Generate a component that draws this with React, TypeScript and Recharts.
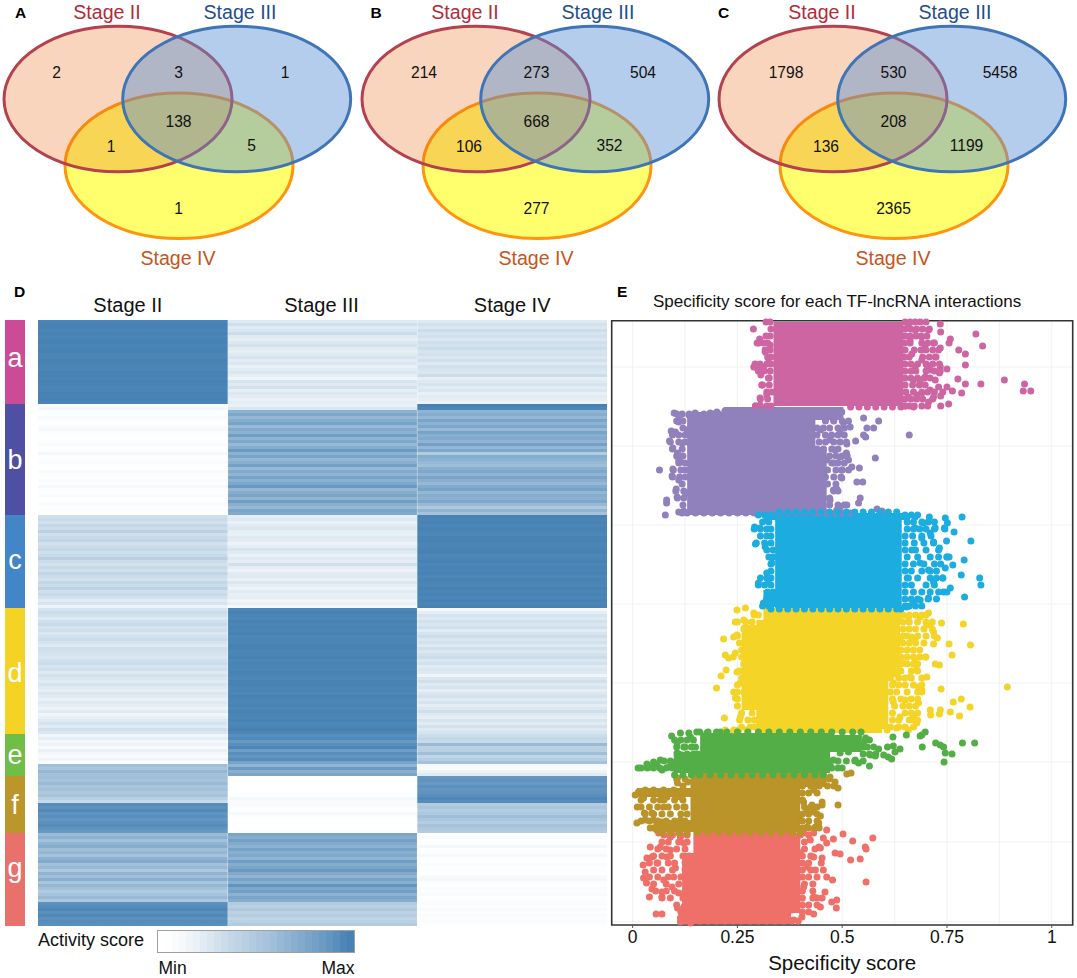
import React from 'react';
import { ScatterChart, Scatter, XAxis, YAxis, BarChart, Bar, Cell, CartesianGrid, ReferenceArea, ReferenceLine } from 'recharts';

// ---------- Venn panels ----------
const vennSets = [
  { name: 'Stage IV', x: 179, y: 165.7 },
  { name: 'Stage II', x: 118, y: 99 },
  { name: 'Stage III', x: 236.7, y: 99 },
];
const vennNames = [
  { name: 'Stage II', x: 107, y: 19 },
  { name: 'Stage III', x: 240, y: 19 },
  { name: 'Stage IV', x: 178, y: 265 },
];
const regionX = [0, 178.5, 285, 178.5, 111, 251.5, 178.5];
const regionY = [72.7, 72.7, 72.7, 121, 146, 145, 208];
const countsA = [2, 3, 1, 138, 1, 5, 1];
const countsB = [214, 273, 504, 668, 106, 352, 277];
const countsC = [1798, 530, 5458, 208, 136, 1199, 2365];
const firstRegionX = { A: 56.7, B: 66, C: 71 };

const vennStyle: any = {
  'Stage II': { fill: 'rgb(230,106,18)', fillOpacity: 0.283, stroke: '#B5404F', text: '#B22B3B' },
  'Stage III': { fill: 'rgb(91,144,213)', fillOpacity: 0.45, stroke: '#3F75B7', text: '#1F4E8C' },
  'Stage IV': { fill: '#FFFF6E', fillOpacity: 1, stroke: '#FF9410', text: '#C8541C' },
};

// ---------- Heatmap ----------
const stageNames = ['Stage II', 'Stage III', 'Stage IV'];
const stageTickDx = [-5, -1, 0];
const a2 = [98,100,99,98,100,97,99,100,98,99,100,97,98,100,99,98,97,100,99,98,100,99,97,98,100,99,100,98];
const a3 = [18,26,16,20,28,17,14,19,24,16,13,18,22,15,19,12,16,20,14,8,22,17,24,13,19,15,11,14];
const a4 = [18,24,20,28,22,25,20,26,23,28,22,24,20,26,18,25,22,20,28,14,18,22,16,20,12,16,14,10];
const b2 = [3,6,2,1,4,2,1,3,5,2,1,0,2,4,1,2,6,1,2,3,1,0,4,2,1,3,1,5,2,1,3,0,2,4,1,2,1];
const b3 = [12,20,62,70,58,66,74,55,68,62,78,60,70,56,66,80,62,72,58,64,76,55,68,60,74,62,70,82,58,66,72,60,78,64,56,72,68];
const b4 = [100,96,60,66,58,72,62,70,56,74,64,68,60,76,58,70,42,66,62,56,52,64,70,60,72,64,56,68,74,58,66,62,70,56,44,60,48];
const c2 = [26,30,24,32,28,36,26,30,34,24,28,32,26,30,38,28,24,30,26,34,28,24,32,28,36,26,30,24,16,22,10];
const c3 = [14,18,12,16,20,14,12,18,15,10,14,22,16,12,18,14,26,14,10,16,18,12,20,14,10,16,12,14,8,12,5];
const c4 = [100,98,99,97,100,98,96,99,100,97,98,99,100,96,98,100,97,99,98,100,96,99,98,97,100,98,99,97,100,98,100];
const d2 = [22,28,24,18,26,30,22,26,20,24,28,22,18,26,24,22,20,25,28,22,26,18,24,20,16,22,18,14,20,16,12,18,14,10,16,8,12,18,22,16,26,20];
const d3 = [97,100,98,96,100,97,99,98,100,96,98,97,100,99,97,98,100,96,99,98,97,100,98,96,99,100,97,98,96,100,98,97,99,96,100,98,97,99,96,98,100,97];
const d4 = [6,14,22,18,24,20,26,16,22,28,20,24,18,26,20,24,28,20,24,16,20,18,8,20,26,18,22,14,20,24,16,22,14,20,26,18,14,22,16,24,18,22];
const e2 = [8,14,6,10,4,12,6,4,8,2,52,46,58,50];
const e3 = [90,94,82,90,96,78,90,84,92,74,60,80,64,72];
const e4 = [28,32,30,55,36,38,52,34,40,50,5,4,10,16];
const f2 = [52,48,55,46,50,44,48,38,30,92,88,94,86,90,84,88,92,86,82];
const f3 = [0,1,0,0,1,0,2,6,3,4,2,1,5,2,0,1,0,1,0];
const f4 = [84,86,82,88,84,86,90,95,92,42,46,40,44,52,46,40,48,44,42];
const g2 = [54,62,50,60,66,52,58,48,62,68,50,56,44,60,52,64,46,58,50,42,48,56,44,88,92,96,90,94,88,92,90];
const g3 = [72,66,76,68,62,74,64,70,60,78,66,72,82,68,60,74,64,86,70,76,62,72,66,42,38,44,36,40,34,38,42];
const g4 = [1,3,0,2,6,1,2,5,1,0,3,1,2,0,4,6,2,1,3,2,4,1,2,3,2,4,1,3,2,3,1];
const stage2 = [...a2, ...b2, ...c2, ...d2, ...e2, ...f2, ...g2];
const stage3 = [...a3, ...b3, ...c3, ...d3, ...e3, ...f3, ...g3];
const stage4 = [...a4, ...b4, ...c4, ...d4, ...e4, ...f4, ...g4];
const heatRows = stage2.map((v, i) => ({ row: i, w2: 1, w3: 1, w4: 1, v2: v, v3: stage3[i], v4: stage4[i] }));

const clusterNames = ['a', 'b', 'c', 'd', 'e', 'f', 'g'];
const clusterRows = [a2.length, b2.length, c2.length, d2.length, e2.length, f2.length, g2.length];
const clusterColors = ['#CB4B97', '#4F50A3', '#4286C7', '#F4D325', '#6FBE45', '#BB962B', '#E9716B'];
const clusterLabelDy = [4.7, 9, 7, 11, 9, 9.5, -3];
const sideRow: any = { side: 'side' };
clusterNames.forEach((n, i) => { sideRow[n] = clusterRows[i]; });

const legendSteps = [0,1,3,5,9,12,16,20,24,28,32,35,38,42,45,48,52,56,60,64,68,72,76,80,85,90,96,100];

const heatColor = (v: number) => {
  const t = v / 100;
  const r = Math.round(255 + (70 - 255) * t);
  const g = Math.round(255 + (130 - 255) * t);
  const b = Math.round(255 + (180 - 255) * t);
  return `rgb(${r},${g},${b})`;
};

// ---------- Specificity scatter ----------
// isolated points: [score, rank]
const pinkPts = [[.288,596],[.734,601],[.735,593],[.819,591],[.835,579],[.758,586],[.755,582],[.778,575],[.794,571],[.794,560],[.750,556],[.776,546],[.794,541],[.831,541],[.887,545],[.935,541],[.932,534],[.950,534],[.750,538],[.730,538],[.763,534],[.785,532],[.754,521],[.735,529],[.710,535],[.690,532],[.706,523],[.670,518],[.650,519],[.686,542],[.698,548],[.732,552],[.734,558],[.710,555],[.690,565],[.666,571],[.722,568],[.734,577],[.718,582],[.698,580],[.690,588],[.706,595],[.674,595],[.658,598],[.297,582],[.303,586],[.316,573],[.328,580],[.324,567],[.289,558],[.297,557],[.312,558],[.306,550],[.308,540],[.324,547],[.304,527],[.320,530],[.293,519],[.304,520],[.320,518],[.670,545],[.662,585],[.674,558],[.702,560],[.658,528],[.678,530],[.718,528],[.722,545]];
const purplePts = [[.099,512],[.111,509],[.110,503],[.134,510],[.149,512],[.185,512],[.201,513],[.092,494],[.102,493],[.088,484],[.096,477],[.107,472],[.114,463],[.064,455],[.096,456],[.094,449],[.110,445],[.104,436],[.106,428],[.081,425],[.081,422],[.078,410],[.110,413],[.122,414],[.551,507],[.587,504],[.575,497],[.559,497],[.551,490],[.556,488],[.660,490],[.519,498],[.532,484],[.511,481],[.579,467],[.510,472],[.515,465],[.523,458],[.541,457],[.499,455],[.499,447],[.535,443],[.549,443],[.487,436],[.479,435],[.543,427],[.539,422],[.495,418],[.511,420],[.519,412],[.583,416],[.595,414],[.487,415],[.471,425],[.479,462],[.495,468],[.463,465],[.483,475],[.471,485],[.495,492],[.503,502],[.479,505],[.459,508],[.499,513],[.448,495],[.455,452],[.448,432],[.463,412],[.130,495],[.138,482],[.118,482],[.110,465],[.126,432]];
const bluePts = [[.786,408],[.746,407],[.751,402],[.744,397],[.708,408],[.674,408],[.694,402],[.722,397],[.767,393],[.807,384],[.749,384],[.690,387],[.718,383],[.674,397],[.710,392],[.732,377],[.750,368],[.755,368],[.791,365],[.764,360],[.746,357],[.784,350],[.740,347],[.828,347],[.831,340],[.758,337],[.742,333],[.792,328],[.706,327],[.686,325],[.670,323],[.654,318],[.718,343],[.706,355],[.686,362],[.666,375],[.658,347],[.291,398],[.304,397],[.293,381],[.316,378],[.300,342],[.320,352],[.324,345],[.320,405],[.312,322],[.336,332],[.332,362]];
const yellowPts = [[.245,303],[.265,305],[.710,300],[.737,302],[.789,301],[.702,300],[.217,286],[.241,288],[.249,290],[.718,293],[.727,287],[.718,281],[.755,281],[.806,280],[.762,270],[.674,285],[.666,288],[.698,268],[.674,263],[.722,261],[.732,260],[.221,270],[.229,267],[.245,272],[.249,253],[.223,255],[.211,249],[.200,237],[.736,236],[.894,238],[.682,238],[.690,235],[.702,248],[.678,255],[.241,233],[.245,227],[.257,242],[.765,223],[.784,226],[.805,218],[.758,213],[.734,215],[.732,211],[.710,215],[.711,210],[.780,209],[.682,222],[.670,210],[.219,207],[.221,195],[.241,195],[.253,195],[.273,195],[.678,202],[.658,195],[.630,197],[.607,195],[.587,196],[.650,225],[.622,223],[.638,208],[.638,285],[.257,208],[.265,282],[.273,265],[.583,205],[.646,262],[.662,248],[.622,242],[.249,315],[.269,317],[.289,312],[.706,312],[.686,308],[.658,308]];
const greenPts = [[.093,189],[.114,192],[.134,192],[.153,193],[.177,192],[.209,193],[.106,182],[.122,178],[.138,188],[.118,170],[.106,172],[.098,162],[.013,157],[.034,161],[.050,163],[.066,165],[.070,155],[.086,158],[.102,157],[.122,162],[.138,157],[.153,165],[.149,153],[.042,158],[.058,160],[.479,165],[.471,160],[.448,158],[.432,155],[.416,157],[.420,162],[.495,172],[.515,173],[.531,165],[.539,162],[.567,170],[.579,169],[.556,187],[.551,180],[.565,159],[.587,176],[.599,170],[.608,178],[.622,179],[.626,173],[.638,176],[.621,188],[.618,166],[.610,168],[.653,190],[.690,190],[.698,193],[.686,189],[.691,178],[.723,182],[.734,180],[.742,178],[.746,172],[.762,171],[.743,163],[.787,182],[.816,182]];
const brownPts = [[.006,130],[.014,133],[.030,135],[.050,135],[.074,135],[.098,135],[.107,147],[.107,142],[.132,143],[.011,118],[.028,112],[.046,112],[.010,102],[.030,105],[.050,105],[.042,97],[.070,103],[.058,95],[.074,118],[.114,105],[.122,118],[.066,125],[.026,127],[.082,128],[.114,128],[.086,97],[.471,148],[.483,143],[.490,137],[.448,142],[.424,145],[.432,135],[.511,151],[.521,152],[.490,120],[.452,123],[.452,120],[.448,109],[.428,120],[.432,113],[.416,115],[.408,123],[.444,102],[.436,98],[.416,98],[.400,105]];
const redPts = [[.463,95],[.502,91],[.455,87],[.479,86],[.525,84],[.573,87],[.463,82],[.448,77],[.424,85],[.555,78],[.557,76],[.483,72],[.495,71],[.432,68],[.452,67],[.450,62],[.520,65],[.543,66],[.436,55],[.455,55],[.463,48],[.477,45],[.557,43],[.416,58],[.400,72],[.392,45],[.408,38],[.432,28],[.459,33],[.452,27],[.475,23],[.487,25],[.486,17],[.448,18],[.432,11],[.404,8],[.380,15],[.384,5],[.444,78],[.432,92],[.408,92],[.062,92],[.090,88],[.114,88],[.122,82],[.042,78],[.066,78],[.090,75],[.034,67],[.046,68],[.058,62],[.025,60],[.030,53],[.026,47],[.033,42],[.074,45],[.098,48],[.046,36],[.070,33],[.040,28],[.094,38],[.070,28],[.110,32],[.122,18],[.107,17],[.056,11],[.070,11],[.114,7],[.130,10],[.114,3],[.138,2],[.102,57],[.130,65],[.082,68],[.138,38],[.134,22]];

// fringe of each cloud, by rank: [rank, [scores...]]
const pinkFringe = [
  [603,[.318,.328,.650,.662,.674,.686,.700]],[596,[.330,.650,.664,.678,.692,.708]],[589,[.318,.328,.650,.662,.676,.688,.702]],
  [582,[.300,.312,.322,.648,.662,.690,.704,.720]],[575,[.316,.328,.650,.672,.688,.700,.716,.730]],[568,[.322,.330,.648,.660,.692,.708,.724]],
  [561,[.292,.304,.320,.330,.650,.664,.680,.700,.716,.732]],[554,[.300,.314,.328,.650,.664,.676,.700,.720,.734]],[547,[.326,.650,.664,.680,.696,.710]],
  [540,[.310,.326,.650,.668,.684,.698]],[533,[.320,.332,.652,.670,.690,.704,.720,.740]],[526,[.305,.322,.650,.664,.678,.692,.716]],
  [519,[.293,.305,.320,.330,.650,.660,.672,.690,.704,.735]],[518,[.52,.54,.56,.58,.60,.62,.64]],
];
const purpleFringe = [
  [511,[.105,.118,.135,.15,.17,.19,.205]],[514,[.22,.24,.26,.28,.30,.32]],[504,[.105,.12,.46,.48,.50,.515]],[497,[.12,.44,.455,.47,.49,.505]],
  [490,[.095,.11,.125,.44,.46,.475,.49,.505]],[483,[.09,.11,.125,.445,.46,.48,.495,.51]],[476,[.095,.118,.44,.455,.475,.49]],
  [469,[.105,.12,.44,.47,.485,.50,.512]],[462,[.11,.125,.44,.475,.49,.505]],[455,[.097,.115,.125,.44,.465,.485,.50,.515]],
  [448,[.095,.112,.125,.44,.46,.48,.497]],[441,[.118,.44,.465,.485]],[434,[.103,.122,.44,.48,.49]],[427,[.107,.122,.44,.455,.47]],
  [420,[.12,.445,.47,.49,.505]],[412,[.118,.13,.15,.17,.19,.21,.23,.25,.27,.29,.31,.33,.35,.37,.39,.41,.43,.445,.465,.485,.50]],
];
const blueFringe = [
  [410,[.30,.315,.33,.65,.665,.68]],[403,[.31,.325,.655,.67,.69,.705,.72]],[396,[.29,.305,.32,.33,.655,.67,.685,.70,.72,.745]],
  [389,[.305,.32,.33,.65,.668,.69,.712]],[382,[.295,.315,.33,.65,.672,.695,.718]],[375,[.32,.335,.65,.675,.70,.73]],
  [368,[.325,.335,.655,.68,.71,.73,.75]],[361,[.33,.65,.67,.695,.72,.735]],[354,[.33,.65,.665,.69,.71,.725]],
  [347,[.305,.32,.33,.655,.68,.71,.725,.74]],[340,[.30,.315,.33,.65,.665,.70,.72]],[333,[.322,.335,.65,.67,.69,.71,.73,.75]],
  [326,[.32,.65,.665,.68,.705,.725]],[319,[.31,.325,.65,.66,.675,.69]],
  [413,[.35,.37,.39,.41,.43,.45,.47,.49,.51,.53,.55,.57,.59,.61,.63]],[316,[.33,.35,.37,.39,.41,.43,.45,.47,.49,.51,.53,.55,.57,.59,.61,.63,.64]],
];
const yellowFringe = [
  [310,[.29,.30,.645,.66,.675,.69,.70]],[303,[.25,.27,.285,.645,.66,.68,.70,.715]],[296,[.265,.285,.645,.66,.675,.695,.715]],
  [289,[.25,.27,.285,.645,.655,.68,.70,.72]],[282,[.255,.275,.29,.645,.66,.675,.695]],[275,[.26,.28,.64,.655,.67,.685]],
  [268,[.24,.26,.285,.64,.655,.67,.685,.70]],[261,[.265,.285,.64,.655,.67,.68]],[254,[.255,.275,.29,.62,.64,.665,.68]],
  [247,[.26,.285,.615,.635,.65,.665,.69]],[240,[.25,.27,.29,.62,.635,.65,.67,.69]],[233,[.25,.265,.285,.615,.63,.655,.68,.69]],
  [226,[.25,.27,.29,.62,.64,.665,.68]],[219,[.25,.28,.625,.645,.66,.675]],[212,[.26,.285,.62,.65,.665,.68]],
  [205,[.255,.275,.29,.62,.635,.66,.67,.68]],[198,[.26,.28,.29,.615,.635,.65,.67]],
];
const greenFringe = [
  [193,[.16,.18,.20,.225,.25,.275,.30,.325,.35,.375,.40,.425,.45,.475,.50,.525,.545]],
  [185,[.10,.115,.13,.145,.555,.565]],[178,[.105,.125,.14,.15,.55,.56,.575]],[171,[.11,.13,.145,.155,.55,.565,.58]],
  [164,[.075,.09,.105,.12,.135,.15,.47,.49,.51,.53,.55]],[157,[.02,.035,.05,.065,.08,.095,.11,.125,.14,.475,.49,.50]],
  [150,[.10,.12,.14,.16,.185,.21,.235,.26,.285,.31,.335,.36,.385,.41,.435,.455]],
];
const brownFringe = [
  [146,[.105,.125,.405,.42,.435,.455,.47]],[139,[.12,.405,.425,.445,.465,.48]],[132,[.015,.03,.045,.06,.075,.09,.105,.12,.405,.42,.44]],
  [125,[.02,.05,.075,.10,.12,.405]],[118,[.02,.04,.06,.085,.105,.125,.41,.425,.44]],[111,[.03,.05,.07,.09,.115,.13,.405,.42,.44]],
  [104,[.02,.04,.06,.08,.10,.125,.405,.42,.44]],[97,[.05,.07,.09,.11,.13,.405,.42,.435,.445]],
  [92,[.07,.09,.11,.13,.155,.18,.205,.23,.255,.28,.305,.33,.355,.38,.40]],
];
const redFringe = [
  [90,[.075,.095,.115,.13,.385,.40,.42]],[83,[.07,.085,.11,.13,.39,.41]],[76,[.06,.08,.105,.125,.39,.41,.435]],
  [69,[.05,.07,.09,.12,.135,.405,.425]],[62,[.04,.06,.085,.10,.125,.405,.42]],[55,[.05,.07,.095,.125,.405,.425]],
  [48,[.04,.06,.085,.115,.13,.405,.42,.44]],[41,[.05,.08,.11,.13,.41,.43]],[34,[.055,.08,.10,.125,.405,.43]],
  [27,[.07,.09,.12,.135,.405,.43,.44]],[20,[.105,.125,.14,.405,.42,.44]],[13,[.115,.13,.405,.42]],
  [4,[.125,.14,.16,.18,.20,.22,.24,.26,.28,.30,.32,.34,.36,.38,.395]],
];

// dense centres of each cloud: [x1, x2, y1, y2]
const pinkCore = [[.336,.646,519,603]];
const purpleCore = [[.130,.436,410,513],[.217,.503,505,518],[.430,.463,412,478]];
const blueCore = [[.340,.642,317,412],[.320,.662,405,412],[.312,.344,318,335]];
const yellowCore = [[.295,.595,192,305],[.312,.642,303,317],[.590,.638,248,312],[.260,.300,215,300],[.590,.610,196,250]];
const greenCore = [[.161,.471,152,192],[.468,.547,173,190],[.098,.165,152,173]];
const brownCore = [[.138,.400,93,152],[.010,.140,128,137],[.398,.463,138,152],[.050,.140,93,105]];
const redCore = [[.145,.378,1,96],[.374,.400,12,90],[.118,.148,5,72]];

const scoreTicks = [0, 0.25, 0.5, 0.75, 1];
const gridX = [0, 0.125, 0.25, 0.375, 0.5, 0.625, 0.75, 0.875, 1];
const gridY = [3, 83, 163, 242, 321, 400, 479, 558];

const expand = (rows: any[]) => rows.flatMap(([y, xs]: any) => xs.map((x: number) => [x, y]));
const cloudSeries = [
  { name: 'a', color: '#CD65A3', pts: [...pinkPts, ...expand(pinkFringe)], core: pinkCore },
  { name: 'b', color: '#9080BC', pts: [...purplePts, ...expand(purpleFringe)], core: purpleCore },
  { name: 'd', color: '#F3D427', pts: [...yellowPts, ...expand(yellowFringe)], core: yellowCore },
  { name: 'c', color: '#1CACE0', pts: [...bluePts, ...expand(blueFringe)], core: blueCore },
  { name: 'g', color: '#EE7068', pts: [...redPts, ...expand(redFringe)], core: redCore },
  { name: 'f', color: '#BA9329', pts: [...brownPts, ...expand(brownFringe)], core: brownCore },
  { name: 'e', color: '#53AE48', pts: [...greenPts, ...expand(greenFringe)], core: greenCore },
];

// ---------- helpers ----------
const FONT = '"Liberation Sans", Arial, sans-serif';
const Txt = ({ x, base, size, anchor = 'left', weight = 400, color = '#111', children }: any) => (
  <div style={{
    position: 'absolute', left: x, top: base - size * 0.8465, fontSize: size, lineHeight: 1, fontWeight: weight,
    color, whiteSpace: 'nowrap',
    transform: anchor === 'center' ? 'translateX(-50%)' : anchor === 'right' ? 'translateX(-100%)' : undefined,
  }}>{children}</div>
);

const EllipseShape = (p: any) => {
  const s = vennStyle[p.payload.name];
  return <ellipse cx={p.cx} cy={p.cy} rx={114} ry={72.8} fill={s.fill} fillOpacity={s.fillOpacity} stroke={s.stroke} strokeWidth={3} />;
};
const NameShape = (p: any) => (
  <text x={p.cx} y={p.cy} textAnchor="middle" fontSize={19.6} fill={vennStyle[p.payload.name].text}>{p.payload.name}</text>
);
const CountShape = (p: any) => (
  <text x={p.cx} y={p.cy} dy="0.36em" textAnchor="middle" fontSize={15.6} fill="#111">{p.payload.count}</text>
);
const DotShape = (p: any) => <circle cx={p.cx} cy={p.cy} r={3.5} fill={p.fill} />;

const Venn = ({ left, counts, firstX }: any) => {
  const regions = counts.map((c: number, i: number) => ({ count: c, x: i === 0 ? firstX : regionX[i], y: regionY[i] }));
  return (
    <div style={{ position: 'absolute', left, top: 0 }}>
      <ScatterChart width={362} height={280} margin={{ top: 0, right: 0, bottom: 0, left: 0 }}>
        <XAxis type="number" dataKey="x" domain={[0, 362]} hide />
        <YAxis type="number" dataKey="y" domain={[0, 280]} reversed hide />
        <Scatter data={vennSets} shape={EllipseShape} isAnimationActive={false} />
        <Scatter data={vennNames} shape={NameShape} isAnimationActive={false} />
        <Scatter data={regions} shape={CountShape} isAnimationActive={false} />
      </ScatterChart>
    </div>
  );
};

const StageTick = (p: any) => (
  <text x={p.x + stageTickDx[p.index]} y={26.7} textAnchor="middle" fontSize={20} fill="#111">{stageNames[p.index]}</text>
);

const SideLabel = (i: number) => (p: any) => (
  <text x={p.x + p.width / 2} y={p.y + p.height / 2 + clusterLabelDy[i]} textAnchor="middle" fontSize={27} fill="#fff">{clusterNames[i]}</text>
);

export default function App() {
  return (
    <div style={{ position: 'absolute', left: 0, top: 0, width: 1077, height: 978, overflow: 'hidden', background: '#fff', fontFamily: FONT }}>
      <Venn left={0} counts={countsA} firstX={firstRegionX.A} />
      <Venn left={357.7} counts={countsB} firstX={firstRegionX.B} />
      <Venn left={715} counts={countsC} firstX={firstRegionX.C} />
      <Txt x={15} base={18} size={15.5} weight={700} color="#000">A</Txt>
      <Txt x={370.5} base={18} size={15.5} weight={700} color="#000">B</Txt>
      <Txt x={718} base={18} size={15.5} weight={700} color="#000">C</Txt>
      <Txt x={14} base={297} size={15.5} weight={700} color="#000">D</Txt>
      <Txt x={617} base={297} size={15.5} weight={700} color="#000">E</Txt>

      {/* cluster side bar */}
      <div style={{ position: 'absolute', left: 4.5, top: 320 }}>
        <BarChart width={20} height={606} data={[sideRow]} barCategoryGap={0} margin={{ top: 0, right: 0, bottom: 0, left: 0 }}>
          <XAxis type="category" dataKey="side" hide />
          <YAxis type="number" domain={[0, clusterRows.reduce((s, v) => s + v, 0)]} reversed hide />
          {clusterNames.map((n, i) => (
            <Bar key={n} dataKey={n} stackId="s" fill={clusterColors[i]} isAnimationActive={false} label={SideLabel(i)} />
          ))}
        </BarChart>
      </div>

      {/* heatmap */}
      <div style={{ position: 'absolute', left: 38, top: 285 }}>
        <BarChart layout="vertical" width={569} height={641} data={heatRows} barCategoryGap={0} margin={{ top: 0, right: 0, bottom: 0, left: 0 }}>
          <XAxis type="number" orientation="top" domain={[0, 3]} ticks={[0.5, 1.5, 2.5]} height={35} tickLine={false} axisLine={false} tick={StageTick} interval={0} />
          <YAxis type="category" dataKey="row" hide />
          <Bar dataKey="w2" stackId="h" isAnimationActive={false} shapeRendering="crispEdges">
            {heatRows.map((r) => <Cell key={r.row} fill={heatColor(r.v2)} />)}
          </Bar>
          <Bar dataKey="w3" stackId="h" isAnimationActive={false} shapeRendering="crispEdges">
            {heatRows.map((r) => <Cell key={r.row} fill={heatColor(r.v3)} />)}
          </Bar>
          <Bar dataKey="w4" stackId="h" isAnimationActive={false} shapeRendering="crispEdges">
            {heatRows.map((r) => <Cell key={r.row} fill={heatColor(r.v4)} />)}
          </Bar>
          <ReferenceLine x={1} stroke="#fff" strokeOpacity={0.35} />
          <ReferenceLine x={2} stroke="#fff" strokeOpacity={0.35} />
        </BarChart>
      </div>

      {/* colour legend */}
      <Txt x={38} base={946.5} size={18}>Activity score</Txt>
      <div style={{ position: 'absolute', left: 158, top: 930.5, width: 196, height: 21, outline: '1.5px solid #A0A0A0', outlineOffset: -0.5 }}>
        <BarChart width={196} height={21} data={legendSteps.map((v) => ({ v, h: 1 }))} barCategoryGap={0} margin={{ top: 0, right: 0, bottom: 0, left: 0 }}>
          <XAxis type="category" dataKey="v" hide />
          <YAxis type="number" domain={[0, 1]} hide />
          <Bar dataKey="h" isAnimationActive={false} shapeRendering="crispEdges">
            {legendSteps.map((v) => <Cell key={v} fill={heatColor(v)} />)}
          </Bar>
        </BarChart>
      </div>
      <Txt x={158.5} base={975} size={17.5}>Min</Txt>
      <Txt x={354.5} base={975} size={17.5} anchor="right">Max</Txt>

      {/* specificity scatter */}
      <Txt x={653} base={307} size={17}>Specificity score for each TF-lncRNA interactions</Txt>
      <div style={{ position: 'absolute', left: 600, top: 300 }}>
        <ScatterChart width={477} height={678} margin={{ top: 20.7, right: 4.3, bottom: 0, left: 11.7 }}>
          <CartesianGrid stroke="#F1F1F1" verticalValues={gridX} horizontalValues={gridY} />
          <XAxis type="number" dataKey="x" domain={[-0.05, 1.05]} ticks={scoreTicks} height={53} axisLine={false}
            tickSize={3} tickLine={{ stroke: '#555' }} tick={{ fontSize: 17.5, fill: '#111' }} tickMargin={3} interval={0}
            label={{ value: 'Specificity score', position: 'insideBottom', offset: 8, fontSize: 20.5, fill: '#111' }} />
          <YAxis type="number" dataKey="y" domain={[0, 604.3]} hide />
          {cloudSeries.flatMap((s) => s.core.map((c, i) => (
            <ReferenceArea key={s.name + i} x1={c[0]} x2={c[1]} y1={c[2]} y2={c[3]} fill={s.color} fillOpacity={1} stroke="none" />
          )))}
          {cloudSeries.map((s) => (
            <Scatter key={s.name} name={s.name} data={s.pts.map(([x, y]: any) => ({ x, y }))} fill={s.color} shape={DotShape} isAnimationActive={false} />
          ))}
          <ReferenceArea x1={-0.05} x2={1.05} y1={0} y2={604.3} fill="none" fillOpacity={0} stroke="#333" strokeWidth={1.6} ifOverflow="visible" />
        </ScatterChart>
      </div>
    </div>
  );
}
